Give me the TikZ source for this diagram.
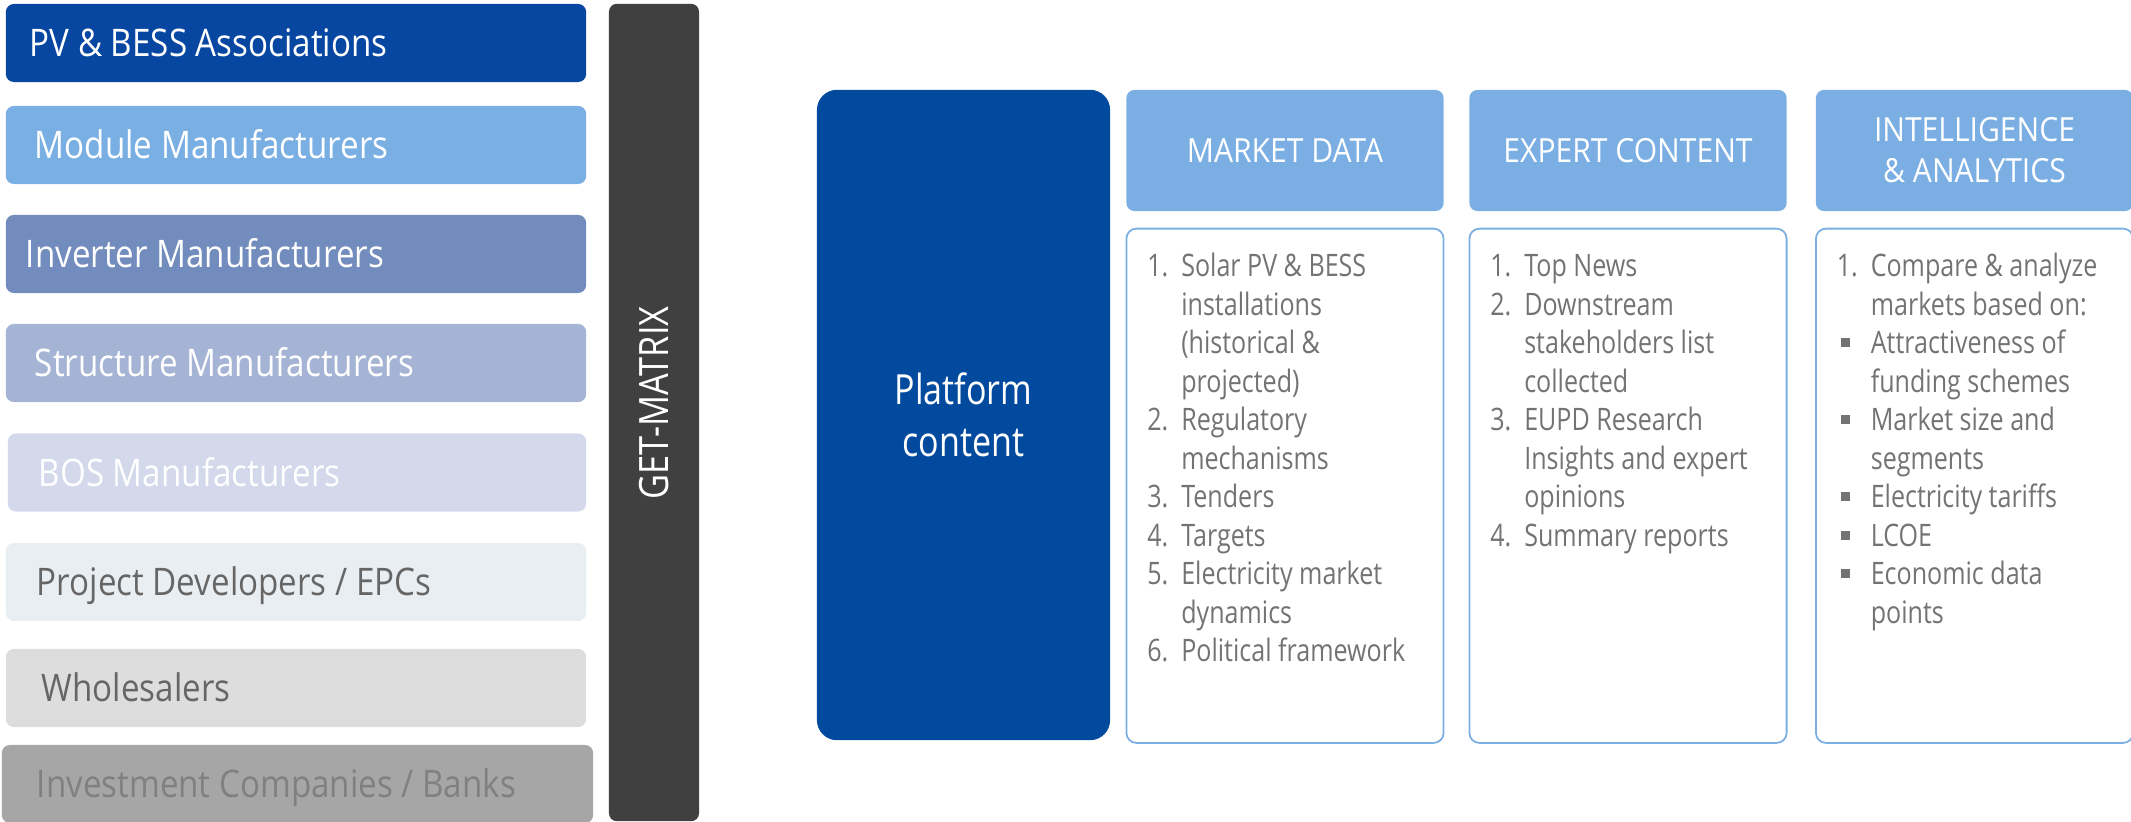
\documentclass[tikz,border=0pt]{standalone}
\usepackage{fontspec}
\setmainfont{Open Sans}[FakeStretch=0.85]
\newfontfamily\actorfont{Open Sans}[FakeStretch=0.873]
\newfontfamily\headfont{Open Sans}[FakeStretch=0.905]
\newfontfamily\listfont{Open Sans}[FakeStretch=0.81]
\newfontfamily\platfont{Open Sans}[FakeStretch=0.82]
\usetikzlibrary{positioning}

\definecolor{pvblue}{RGB}{7,71,161}
\definecolor{modblue}{RGB}{122,175,228}
\definecolor{invblue}{RGB}{114,140,189}
\definecolor{strblue}{RGB}{165,180,212}
\definecolor{bosblue}{RGB}{211,216,234}
\definecolor{epcgray}{RGB}{233,238,243}
\definecolor{whsgray}{RGB}{221,221,221}
\definecolor{bankgray}{RGB}{166,166,166}
\definecolor{banktext}{RGB}{128,128,128}
\definecolor{darktext}{RGB}{102,102,102}
\definecolor{bardark}{RGB}{64,64,64}
\definecolor{platblue}{RGB}{2,74,158}
\definecolor{headblue}{RGB}{123,175,228}
\definecolor{listgray}{RGB}{115,115,115}

\newcommand{\itemno}[1]{\makebox[0.34cm][l]{#1}}
\newcommand{\contline}{\hspace*{0.34cm}}
\newcommand{\sqbullet}{\makebox[0.34cm][l]{\hspace*{0.04cm}\raisebox{0.065cm}{\rule{0.09cm}{0.09cm}}}}

\begin{document}
\begin{tikzpicture}[x=0.01cm,y=-0.01cm,
	actor/.style={rectangle,rounded corners=0.08cm,minimum width=5.80cm,
		minimum height=0.78cm,inner sep=0pt},
	actortext/.style={anchor=west,inner sep=0pt,text height=0.27cm,text depth=0pt,
		font=\actorfont\fontsize{10.8}{13}\selectfont},
	head/.style={rectangle,rounded corners=0.08cm,fill=headblue,minimum width=3.17cm,
		minimum height=1.21cm,inner sep=0pt,text=white,align=center,
		font=\headfont\fontsize{9.45}{11.7}\selectfont},
	panel/.style={rectangle,rounded corners=0.1cm,draw=headblue,line width=0.5pt,
		minimum width=3.17cm,minimum height=5.14cm,inner sep=0pt},
	listtext/.style={anchor=north west,inner sep=0pt,align=left,text=listgray,
		font=\listfont\fontsize{8.8}{10.95}\selectfont}]
\useasboundingbox (0,0) rectangle (2131,822);

% stakeholders
\node[actor,fill=pvblue] (pv) at (296,43) {};
\node[actortext,text=white] (pv-t) at ([xshift=0.24cm]pv.west) {PV \& BESS Associations};
\node[actor,fill=modblue] (module) at (296,145) {};
\node[actortext,text=white] (module-t) at ([xshift=0.29cm]module.west) {Module Manufacturers};
\node[actor,fill=invblue] (inverter) at (296,254) {};
\node[actortext,text=white] (inverter-t) at ([xshift=0.20cm]inverter.west) {Inverter Manufacturers};
\node[actor,fill=strblue] (structure) at (296,363) {};
\node[actortext,text=white] (structure-t) at ([xshift=0.29cm]structure.west) {Structure Manufacturers};
\node[actor,fill=bosblue,minimum width=5.78cm] (bos) at (297,472.5) {};
\node[actortext,text=white] (bos-t) at ([xshift=0.31cm]bos.west) {BOS Manufacturers};
\node[actor,fill=epcgray] (epc) at (296,582) {};
\node[actortext,text=darktext] (epc-t) at ([xshift=0.31cm]epc.west) {Project Developers / EPCs};
\node[actor,fill=whsgray] (wholesale) at (296,688) {};
\node[actortext,text=darktext] (wholesale-t) at ([xshift=0.36cm]wholesale.west) {Wholesalers};
\node[actor,fill=bankgray,minimum width=5.91cm] (bank) at (297.5,784) {};
\node[actortext,text=banktext] (bank-t) at ([xshift=0.35cm]bank.west) {Investment Companies / Banks};

% GET-MATRIX bar
\node[rectangle,rounded corners=0.08cm,fill=bardark,minimum width=0.90cm,
	minimum height=8.17cm,inner sep=0pt] (matrix) at (654,412.5) {};
\node[rotate=90,text=white,inner sep=0pt,font=\fontsize{11.5}{13}\selectfont]
	(matrix-t) at (654,403) {GET-MATRIX};

% platform content
\node[rectangle,rounded corners=0.2cm,fill=platblue,minimum width=2.93cm,
	minimum height=6.50cm,inner sep=0pt,text=white,align=center,
	font=\platfont\fontsize{11.8}{14.7}\selectfont] (platform) at (963.5,415) {Platform\\content};

% columns
\node[head] (market) at (1285,150.5) {MARKET DATA};
\node[head] (expert) at (1628,150.5) {EXPERT CONTENT};
\node[head] (intel) at (1974.5,150.5) {INTELLIGENCE\\\& ANALYTICS};

\node[panel,below=0.16cm of market] (market-p) {};
\node[panel,below=0.16cm of expert] (expert-p) {};
\node[panel,below=0.16cm of intel] (intel-p) {};

\node[listtext] (market-l) at ([xshift=0.21cm]market-p.west |- 0,249) {%
	\strut\itemno{1.}Solar PV \& BESS\\
	\contline installations\\
	\contline (historical \&\\
	\contline projected)\\
	\itemno{2.}Regulatory\\
	\contline mechanisms\\
	\itemno{3.}Tenders\\
	\itemno{4.}Targets\\
	\itemno{5.}Electricity market\\
	\contline dynamics\\
	\itemno{6.}Political framework};

\node[listtext] (expert-l) at ([xshift=0.21cm]expert-p.west |- 0,249) {%
	\strut\itemno{1.}Top News\\
	\itemno{2.}Downstream\\
	\contline stakeholders list\\
	\contline collected\\
	\itemno{3.}EUPD Research\\
	\contline Insights and expert\\
	\contline opinions\\
	\itemno{4.}Summary reports};

\node[listtext] (intel-l) at ([xshift=0.21cm]intel-p.west |- 0,249) {%
	\strut\itemno{1.}Compare \& analyze\\
	\contline markets based on:\\
	\sqbullet Attractiveness of\\
	\contline funding schemes\\
	\sqbullet Market size and\\
	\contline segments\\
	\sqbullet Electricity tariffs\\
	\sqbullet LCOE\\
	\sqbullet Economic data\\
	\contline points};

\end{tikzpicture}
\end{document}
